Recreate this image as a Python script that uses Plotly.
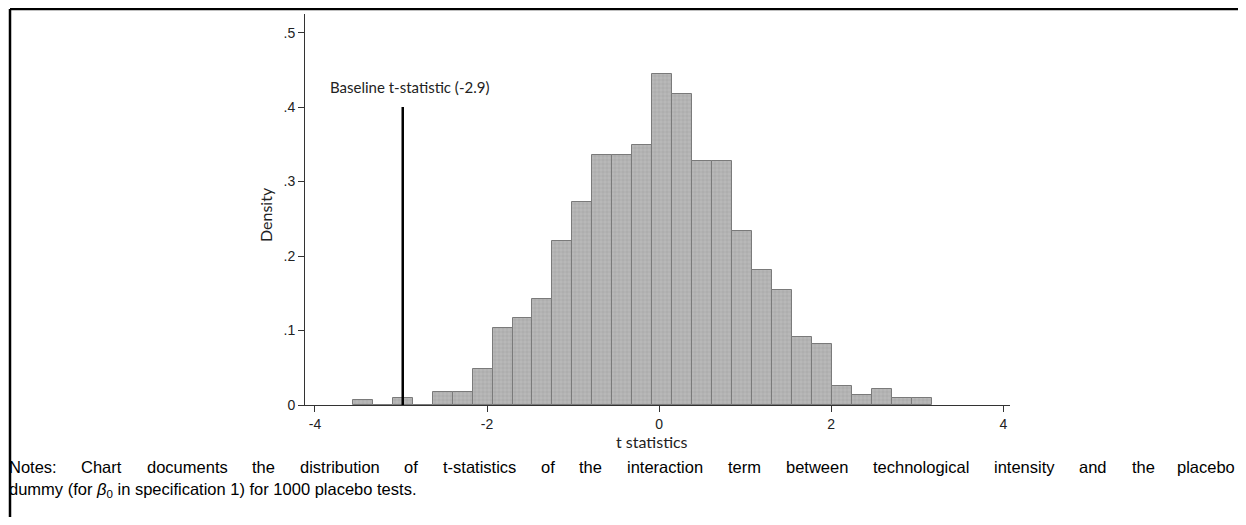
import plotly.graph_objects as go

# ---- data ----
bin_centers = [-3.444, -3.212, -2.980, -2.748, -2.516, -2.284, -2.052, -1.820,
               -1.588, -1.356, -1.124, -0.892, -0.660, -0.428, -0.196, 0.036,
               0.268, 0.500, 0.732, 0.964, 1.196, 1.428, 1.660, 1.892,
               2.124, 2.356, 2.588, 2.820, 3.052]
densities = [0.007, 0.0, 0.009, 0.0, 0.018, 0.018, 0.048, 0.104,
             0.117, 0.143, 0.220, 0.272, 0.336, 0.336, 0.349, 0.444,
             0.418, 0.327, 0.327, 0.233, 0.181, 0.155, 0.091, 0.082,
             0.026, 0.013, 0.022, 0.009, 0.009]
bin_width = 0.232

baseline_t = -2.98
baseline_top = 0.4
baseline_label = "Baseline t-statistic (-2.9)"

x_ticks = [-4, -2, 0, 2, 4]
x_ticktext = ["-4", "-2", "0", "2", "4"]
y_ticks = [0, 0.1, 0.2, 0.3, 0.4, 0.5]
y_ticktext = ["0", ".1", ".2", ".3", ".4", ".5"]

x_title = "t statistics"
y_title = "Density"
note_line1 = ("Notes: Chart documents the distribution of t-statistics of the interaction "
              "term between technological intensity and the placebo")
note_line2 = "dummy (for <i>β</i><sub>0</sub> in specification 1) for 1000 placebo tests."

# ---- figure geometry ----
# the page body has an 8px default margin, so the figure is drawn 8px in from
# the window's top-left corner; all "screen" positions below are window pixels.
OFF = 8
W, H = 1236, 509
L, T = 305 - OFF, 14 - OFF
R = W - (1010 - OFF)
B = H - (405 - OFF)
pw, ph = W - L - R, H - T - B


def px_x(p):
    return (p - OFF - L) / pw


def px_y(p):
    return (H - B - (p - OFF)) / ph


# Arial / Liberation Sans advance widths (per 1000 em) for justifying the note
_AW = {' ': 278, '!': 278, '(': 333, ')': 333, '-': 333, '.': 278, ':': 278,
       'N': 722, 'C': 722, 'T': 611}
for ch in "0123456789":
    _AW[ch] = 556
_low = dict(a=556, b=556, c=500, d=556, e=556, f=278, g=556, h=556, i=222, j=222,
            k=500, l=222, m=833, n=556, o=556, p=556, q=556, r=333, s=500, t=278,
            u=556, v=500, w=722, x=500, y=500, z=500)
_AW.update(_low)


def text_w(s, size):
    return sum(_AW.get(c, 556) for c in s) * size / 1000.0


fig = go.Figure()
fig.add_trace(go.Bar(
    x=bin_centers, y=densities, width=[bin_width] * len(bin_centers),
    marker=dict(color="#b0b0b0",
                line=dict(color="#7a7a7a", width=1),
                pattern=dict(shape="+", size=4, solidity=0.3,
                             fgcolor="#969696", bgcolor="#b8b8b8")),
    showlegend=False, hoverinfo="x+y",
))

# baseline vertical line
fig.add_trace(go.Scatter(
    x=[baseline_t, baseline_t], y=[0, baseline_top], mode="lines",
    line=dict(color="black", width=2.5), showlegend=False, hoverinfo="skip",
))

tick_font = dict(family="Liberation Sans, Arial, sans-serif", size=14, color="#222")
title_font = dict(family="Lato, Open Sans, sans-serif", size=16, color="#222")
note_font = dict(family="Liberation Sans, Arial, sans-serif", size=16.5, color="black")

fig.update_layout(
    width=W, height=H,
    margin=dict(l=L, r=R, t=T, b=B, pad=0),
    paper_bgcolor="white", plot_bgcolor="white",
    bargap=0,
    xaxis=dict(range=[-4.116, 4.078], tickvals=x_ticks, ticktext=x_ticktext,
               showgrid=False, zeroline=False, showline=True, linecolor="#333",
               linewidth=1, ticks="outside", ticklen=6, tickcolor="#333",
               tickfont=tick_font),
    yaxis=dict(range=[0, 0.525], tickvals=y_ticks, ticktext=y_ticktext,
               showgrid=False, zeroline=False, showline=True, linecolor="#333",
               linewidth=1, ticks="outside", ticklen=6, tickcolor="#333",
               tickfont=tick_font),
)

annotations = [
    dict(x=-2.90, y=0.427, xref="x", yref="y", text=baseline_label,
         showarrow=False, font=dict(family="Lato, Open Sans, sans-serif", size=15, color="#222"),
         xanchor="center", yanchor="middle"),
    dict(x=px_x(265), y=px_y(215), xref="paper", yref="paper", text=y_title,
         textangle=-90, showarrow=False, font=title_font,
         xanchor="center", yanchor="middle"),
    dict(x=px_x(652), y=px_y(441), xref="paper", yref="paper", text=x_title,
         showarrow=False, font=title_font, xanchor="center", yanchor="middle"),
    dict(x=px_x(8), y=px_y(490), xref="paper", yref="paper", text=note_line2,
         showarrow=False, font=note_font, borderpad=0,
         xanchor="left", yanchor="middle"),
]

# justified first line of the note: one annotation per word
words = note_line1.split(" ")
left_px, right_px = 8, 1236
widths = [text_w(wd, note_font["size"]) for wd in words]
gap = (right_px - left_px - sum(widths)) / (len(words) - 1)
cur = left_px
for i, wd in enumerate(words):
    last = i == len(words) - 1
    annotations.append(dict(x=px_x(right_px if last else cur), y=px_y(467),
                            xref="paper", yref="paper", text=wd, showarrow=False,
                            font=note_font, borderpad=0,
                            xanchor="right" if last else "left", yanchor="middle"))
    cur += widths[i] + gap

fig.update_layout(annotations=annotations)

# outer frame (left, top, right edges)
frame = dict(type="line", xref="paper", yref="paper", layer="below",
             line=dict(color="black", width=2.5))
fig.add_shape(**frame, x0=px_x(10), y0=px_y(9), x1=px_x(10), y1=px_y(540))
fig.add_shape(**frame, x0=px_x(10), y0=px_y(9), x1=px_x(1240), y1=px_y(9))
fig.add_shape(**frame, x0=px_x(1240), y0=px_y(9), x1=px_x(1240), y1=px_y(540))

fig.write_html("out.html")
